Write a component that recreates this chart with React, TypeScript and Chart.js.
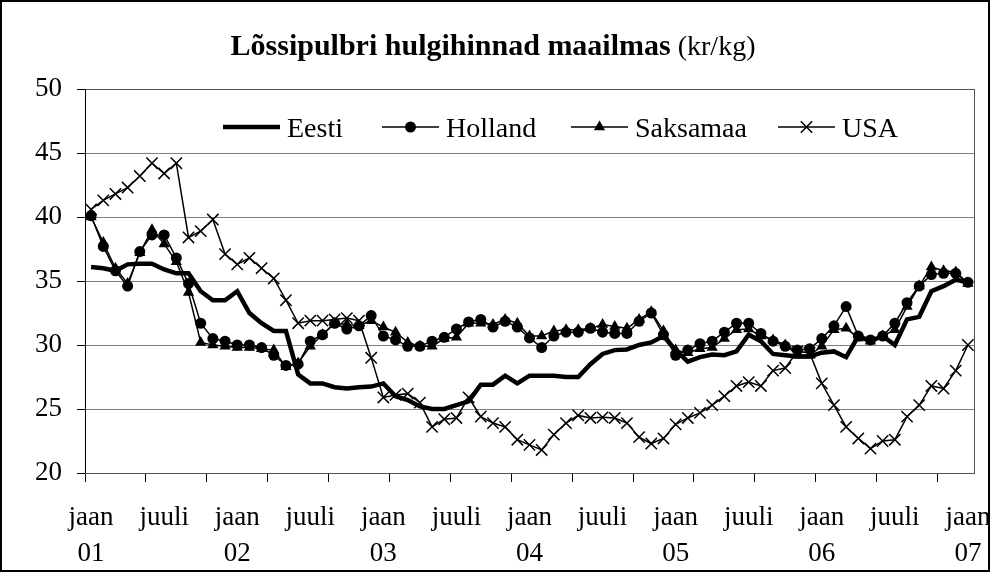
import React, { useEffect, useRef } from 'react';
import { Chart, registerables } from 'chart.js';
Chart.register(...registerables);

const FONT = '"Liberation Serif", "Times New Roman", Times, serif';

const MONTH_NAMES = ['jaan', 'veebr', 'märts', 'apr', 'mai', 'juuni', 'juuli', 'aug', 'sept', 'okt', 'nov', 'dets'];
const YEARS = ['01', '02', '03', '04', '05', '06', '07'];
const categories: string[] = [];
for (let y = 0; y < YEARS.length; y++) {
  for (let m = 0; m < 12; m++) {
    if (y === YEARS.length - 1 && m > 0) break;
    categories.push(MONTH_NAMES[m] + ' ' + YEARS[y]);
  }
}

const TITLE_BOLD = 'Lõssipulbri hulgihinnad maailmas';
const TITLE_UNIT = '(kr/kg)';
const Y_MIN = 20;
const Y_MAX = 50;
const Y_STEP = 5;

const eesti = [
  36.1, 36.0, 35.8, 36.3, 36.35, 36.35, 35.9, 35.6, 35.6, 34.2, 33.5, 33.5,
  34.2, 32.5, 31.7, 31.1, 31.1, 27.7, 27.0, 27.0, 26.7, 26.6, 26.7, 26.75,
  27.0, 26.0, 25.7, 25.2, 25.0, 25.0, 25.3, 25.6, 26.9, 26.9, 27.6, 27.0,
  27.6, 27.6, 27.6, 27.5, 27.5, 28.5, 29.3, 29.6, 29.65, 30.0, 30.2, 30.7,
  29.6, 28.7, 29.05, 29.25, 29.2, 29.5, 30.8, 30.3, 29.3, 29.2, 29.1, 29.1,
  29.4, 29.5, 29.05, 30.7, 30.3, 30.7, 30.0, 32.0, 32.2, 34.2, 34.6, 35.1,
  34.9,
];

const holland = [
  40.1, 37.7, 35.8, 34.6, 37.3, 38.6, 38.6, 36.8, 34.8, 31.7, 30.5, 30.3,
  30.0, 30.0, 29.8, 29.2, 28.4, 28.5, 30.3, 30.8, 31.7, 31.25, 31.5, 32.3,
  30.7, 30.4, 29.9, 29.9, 30.3, 30.6, 31.25, 31.8, 32.0, 31.4, 31.85, 31.4,
  30.55, 29.8, 30.7, 31.0, 31.0, 31.3, 31.0, 30.9, 30.9, 31.85, 32.5, 30.8,
  29.2, 29.6, 30.1, 30.3, 31.0, 31.7, 31.7, 30.9, 30.3, 29.9, 29.6, 29.7,
  30.5, 31.5, 33.0, 30.7, 30.4, 30.7, 31.7, 33.3, 34.6, 35.5, 35.6, 35.6,
  34.9,
];

const saksamaa = [
  40.0, 38.0, 36.0, 34.8, 37.2, 39.0, 37.9, 36.5, 34.1, 30.2, 30.0, 29.9,
  29.8, 29.8, 29.7, 29.6, 28.3, 28.6, 29.9, 30.8, 31.7, 31.6, 31.5, 31.9,
  31.4, 31.0, 30.2, 29.9, 29.9, 30.5, 30.6, 31.7, 31.7, 31.6, 32.0, 31.7,
  30.7, 30.7, 31.1, 31.2, 31.2, 31.3, 31.6, 31.45, 31.3, 32.0, 32.6, 31.1,
  29.6, 29.4, 29.7, 29.8, 30.5, 31.2, 31.25, 30.7, 30.4, 30.0, 29.2, 29.2,
  29.9, 31.2, 31.3, 30.55, 30.3, 30.7, 31.2, 33.0, 34.6, 36.1, 35.8, 35.7,
  34.8,
];

const usa = [
  40.6, 41.3, 41.8, 42.3, 43.2, 44.2, 43.4, 44.2, 38.4, 38.9, 39.8, 37.1,
  36.3, 36.8, 36.0, 35.2, 33.5, 31.7, 31.9, 31.9, 32.0, 32.1, 31.9, 29.0,
  25.9, 26.1, 26.2, 25.5, 23.6, 24.2, 24.3, 25.9, 24.4, 23.9, 23.6, 22.6,
  22.2, 21.8, 23.0, 23.9, 24.5, 24.3, 24.35, 24.3, 23.9, 22.8, 22.3, 22.7,
  23.8, 24.3, 24.7, 25.3, 26.0, 26.8, 27.1, 26.8, 28.0, 28.2, 29.5, 29.4,
  27.0, 25.3, 23.6, 22.7, 21.9, 22.5, 22.6, 24.4, 25.3, 26.8, 26.6, 28.0,
  30.0,
];

const SERIES_NAMES = ['Eesti', 'Holland', 'Saksamaa', 'USA'];

function drawMarker(ctx: CanvasRenderingContext2D, style: string, x: number, y: number) {
  ctx.save();
  ctx.fillStyle = '#000';
  ctx.strokeStyle = '#000';
  if (style === 'circle') {
    ctx.beginPath();
    ctx.arc(x, y, 5.5, 0, Math.PI * 2);
    ctx.fill();
  } else if (style === 'triangle') {
    const r = 6.5;
    ctx.beginPath();
    ctx.moveTo(x, y - r);
    ctx.lineTo(x + r * 0.866, y + r * 0.5);
    ctx.lineTo(x - r * 0.866, y + r * 0.5);
    ctx.closePath();
    ctx.fill();
  } else if (style === 'crossRot') {
    const d = 5.7;
    ctx.lineWidth = 1.5;
    ctx.beginPath();
    ctx.moveTo(x - d, y - d);
    ctx.lineTo(x + d, y + d);
    ctx.moveTo(x + d, y - d);
    ctx.lineTo(x - d, y + d);
    ctx.stroke();
  }
  ctx.restore();
}

const decorPlugin = {
  id: 'decor',
  beforeDraw(chart: any) {
    const ctx = chart.ctx as CanvasRenderingContext2D;
    ctx.save();
    ctx.fillStyle = '#fff';
    ctx.fillRect(0, 0, chart.width, chart.height);
    ctx.restore();
  },
  beforeDatasetsDraw(chart: any) {
    const ctx = chart.ctx as CanvasRenderingContext2D;
    const a = chart.chartArea;
    ctx.save();
    ctx.strokeStyle = '#555';
    ctx.lineWidth = 1;
    ctx.strokeRect(Math.round(a.left) + 0.5, Math.round(a.top) + 0.5, Math.round(a.right - a.left), Math.round(a.bottom - a.top));
    ctx.strokeStyle = '#000';
    ctx.beginPath();
    ctx.moveTo(Math.round(a.left) + 0.5, a.top);
    ctx.lineTo(Math.round(a.left) + 0.5, a.bottom);
    ctx.stroke();
    ctx.restore();
  },
  afterDraw(chart: any) {
    const ctx = chart.ctx as CanvasRenderingContext2D;
    ctx.save();
    // Title
    ctx.fillStyle = '#000';
    ctx.textBaseline = 'alphabetic';
    ctx.font = `bold 30px ${FONT}`;
    const wBold = ctx.measureText(TITLE_BOLD).width;
    ctx.font = `28px ${FONT}`;
    const wSpace = ctx.measureText(' ').width;
    const wUnit = ctx.measureText(TITLE_UNIT).width;
    const total = wBold + wSpace + wUnit;
    const startX = 493 - total / 2;
    ctx.font = `bold 30px ${FONT}`;
    ctx.textAlign = 'left';
    ctx.fillText(TITLE_BOLD, startX, 55);
    ctx.font = `28px ${FONT}`;
    ctx.fillText(TITLE_UNIT, startX + wBold + wSpace, 55);

    // Legend
    const items = [
      { x: 223, style: 'none', width: 4.5 },
      { x: 382, style: 'circle', width: 1.5 },
      { x: 571, style: 'triangle', width: 1.5 },
      { x: 778, style: 'crossRot', width: 1.5 },
    ];
    const ly = 127;
    const sampleLen = 57;
    ctx.font = `28px ${FONT}`;
    items.forEach((it, i) => {
      ctx.strokeStyle = '#000';
      ctx.lineWidth = it.width;
      ctx.beginPath();
      ctx.moveTo(it.x, ly);
      ctx.lineTo(it.x + sampleLen, ly);
      ctx.stroke();
      if (it.style !== 'none') drawMarker(ctx, it.style, it.x + sampleLen / 2, ly);
      ctx.fillStyle = '#000';
      ctx.fillText(SERIES_NAMES[i], it.x + sampleLen + 7, 137);
    });

    // Outer frame
    ctx.strokeStyle = '#000';
    ctx.lineWidth = 2;
    ctx.strokeRect(1, 1, 988, 570);
    ctx.restore();
  },
};

export default function App() {
  const canvasRef = useRef<HTMLCanvasElement | null>(null);

  useEffect(() => {
    if (!canvasRef.current) return;
    const tickFont = { family: FONT, size: 27, lineHeight: 1.33 };
    const chart = new Chart(canvasRef.current, {
      type: 'line',
      data: {
        labels: categories,
        datasets: [
          {
            label: SERIES_NAMES[0],
            data: eesti,
            borderColor: '#000',
            backgroundColor: '#000',
            borderWidth: 4.5,
            pointRadius: 0,
            tension: 0,
          },
          {
            label: SERIES_NAMES[1],
            data: holland,
            borderColor: '#000',
            backgroundColor: '#000',
            borderWidth: 1.5,
            pointStyle: 'circle',
            pointRadius: 5.5,
            pointBorderWidth: 0,
            pointBackgroundColor: '#000',
            tension: 0,
          },
          {
            label: SERIES_NAMES[2],
            data: saksamaa,
            borderColor: '#000',
            backgroundColor: '#000',
            borderWidth: 1.5,
            pointStyle: 'triangle',
            pointRadius: 6.5,
            pointBorderWidth: 0,
            pointBackgroundColor: '#000',
            tension: 0,
          },
          {
            label: SERIES_NAMES[3],
            data: usa,
            borderColor: '#000',
            backgroundColor: '#000',
            borderWidth: 1.5,
            pointStyle: 'crossRot',
            pointRadius: 8,
            pointBorderWidth: 1.5,
            pointBorderColor: '#000',
            tension: 0,
          },
        ],
      },
      options: {
        responsive: false,
        animation: false,
        devicePixelRatio: 1,
        layout: { padding: { top: 89, right: 18, left: 0, bottom: 0 } },
        plugins: {
          legend: { display: false },
          title: { display: false },
          tooltip: { enabled: false },
        },
        scales: {
          x: {
            type: 'category',
            offset: true,
            afterFit: (scale: any) => {
              scale.height = 99;
              scale.paddingLeft = 0;
              scale.paddingRight = 0;
            },
            grid: {
              display: true,
              offset: true,
              drawOnChartArea: false,
              drawTicks: true,
              tickLength: 9,
              lineWidth: 1,
              color: (ctx: any) => (typeof ctx.index === 'number' && ctx.index % 5 === 0 ? '#000' : 'rgba(0,0,0,0)'),
              tickColor: (ctx: any) => (typeof ctx.index === 'number' && ctx.index % 5 === 0 ? '#000' : 'rgba(0,0,0,0)'),
            },
            border: { display: true, color: '#333', width: 1 },
            ticks: {
              autoSkip: false,
              maxRotation: 0,
              minRotation: 0,
              padding: 18,
              color: '#000',
              font: tickFont,
              callback: (_v: any, i: number) => {
                if (i % 6 !== 0) return '';
                const parts = categories[i].split(' ');
                return i % 12 === 0 ? [parts[0], parts[1]] : [parts[0]];
              },
            },
          },
          y: {
            min: Y_MIN,
            max: Y_MAX,
            afterFit: (scale: any) => {
              scale.width = 85;
            },
            grid: {
              color: '#808080',
              lineWidth: 1,
              drawTicks: true,
              tickLength: 8,
              tickColor: '#000',
            },
            border: { display: true, color: '#000', width: 1 },
            ticks: {
              stepSize: Y_STEP,
              padding: 15,
              color: '#000',
              font: { family: FONT, size: 27 },
            },
          },
        },
      },
      plugins: [decorPlugin],
    } as any);
    return () => chart.destroy();
  }, []);

  return (
    <div style={{ position: 'absolute', left: 0, top: 0, width: 992, height: 572, background: '#fff' }}>
      <canvas ref={canvasRef} width={992} height={572} style={{ display: 'block', width: 992, height: 572 }} />
    </div>
  );
}
